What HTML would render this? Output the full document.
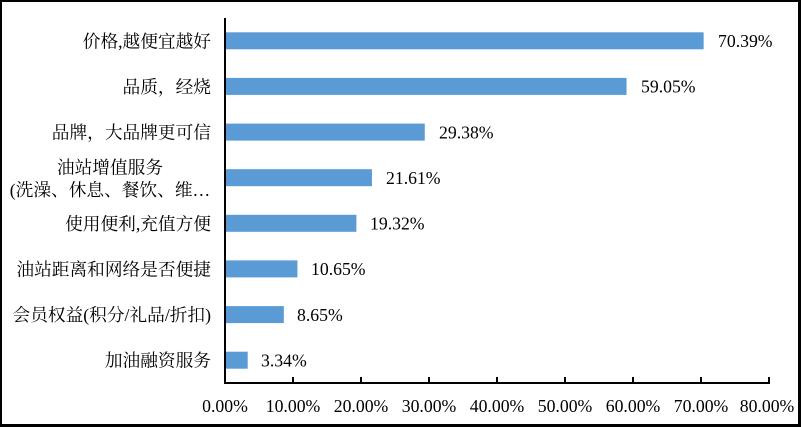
<!DOCTYPE html>
<html><head><meta charset="utf-8"><style>
html,body{margin:0;padding:0;background:#fff;}
svg{display:block;}
text{font-family:"Liberation Serif","Noto Serif CJK SC",serif;fill:#000;font-size:17.7px;}
</style></head><body>
<svg width="801" height="427" viewBox="0 0 801 427" xmlns="http://www.w3.org/2000/svg">
<rect x="0" y="0" width="801" height="427" fill="#000"/>
<rect x="2" y="2" width="796" height="422" fill="#fff"/>
<g fill="#5B9BD5">
<rect x="225" y="32.3" width="478.65" height="17"/>
<rect x="225" y="77.9" width="401.54" height="17"/>
<rect x="225" y="123.6" width="199.78" height="17"/>
<rect x="225" y="169.2" width="146.95" height="17"/>
<rect x="225" y="214.8" width="131.38" height="17"/>
<rect x="225" y="260.4" width="72.42" height="17"/>
<rect x="225" y="306.1" width="58.82" height="17"/>
<rect x="225" y="351.7" width="22.71" height="17"/>
</g>
<g stroke="#000" stroke-width="2" fill="none">
<line x1="225" y1="18" x2="225" y2="384"/>
<line x1="224" y1="383" x2="770" y2="383"/>
<line x1="293" y1="377" x2="293" y2="383"/>
<line x1="361" y1="377" x2="361" y2="383"/>
<line x1="429" y1="377" x2="429" y2="383"/>
<line x1="497" y1="377" x2="497" y2="383"/>
<line x1="565" y1="377" x2="565" y2="383"/>
<line x1="633" y1="377" x2="633" y2="383"/>
<line x1="701" y1="377" x2="701" y2="383"/>
<line x1="769" y1="377" x2="769" y2="383"/>
</g>
<g text-anchor="end">
<text x="211" y="47.3">价格,越便宜越好</text>
<text x="211" y="92.9">品质，经烧</text>
<text x="211" y="138.6">品牌，大品牌更可信</text>
<text x="211" y="229.8">使用便利,充值方便</text>
<text x="211" y="275.4">油站距离和网络是否便捷</text>
<text x="211" y="321.1">会员权益(积分/礼品/折扣)</text>
<text x="211" y="366.7">加油融资服务</text>
</g>
<g text-anchor="middle">
<text x="110" y="173.5">油站增值服务</text>
<text x="110" y="196">(洗澡、休息、餐饮、维…</text>
</g>
<g>
<text x="718" y="47">70.39%</text>
<text x="641" y="92.6">59.05%</text>
<text x="439" y="138.3">29.38%</text>
<text x="386" y="183.9">21.61%</text>
<text x="370" y="229.5">19.32%</text>
<text x="311" y="275.1">10.65%</text>
<text x="297" y="320.8">8.65%</text>
<text x="261" y="366.4">3.34%</text>
</g>
<g text-anchor="middle">
<text x="225" y="412">0.00%</text>
<text x="293" y="412">10.00%</text>
<text x="361" y="412">20.00%</text>
<text x="429" y="412">30.00%</text>
<text x="497" y="412">40.00%</text>
<text x="565" y="412">50.00%</text>
<text x="633" y="412">60.00%</text>
<text x="701" y="412">70.00%</text>
<text x="767" y="412">80.00%</text>
</g>
</svg>
</body></html>
